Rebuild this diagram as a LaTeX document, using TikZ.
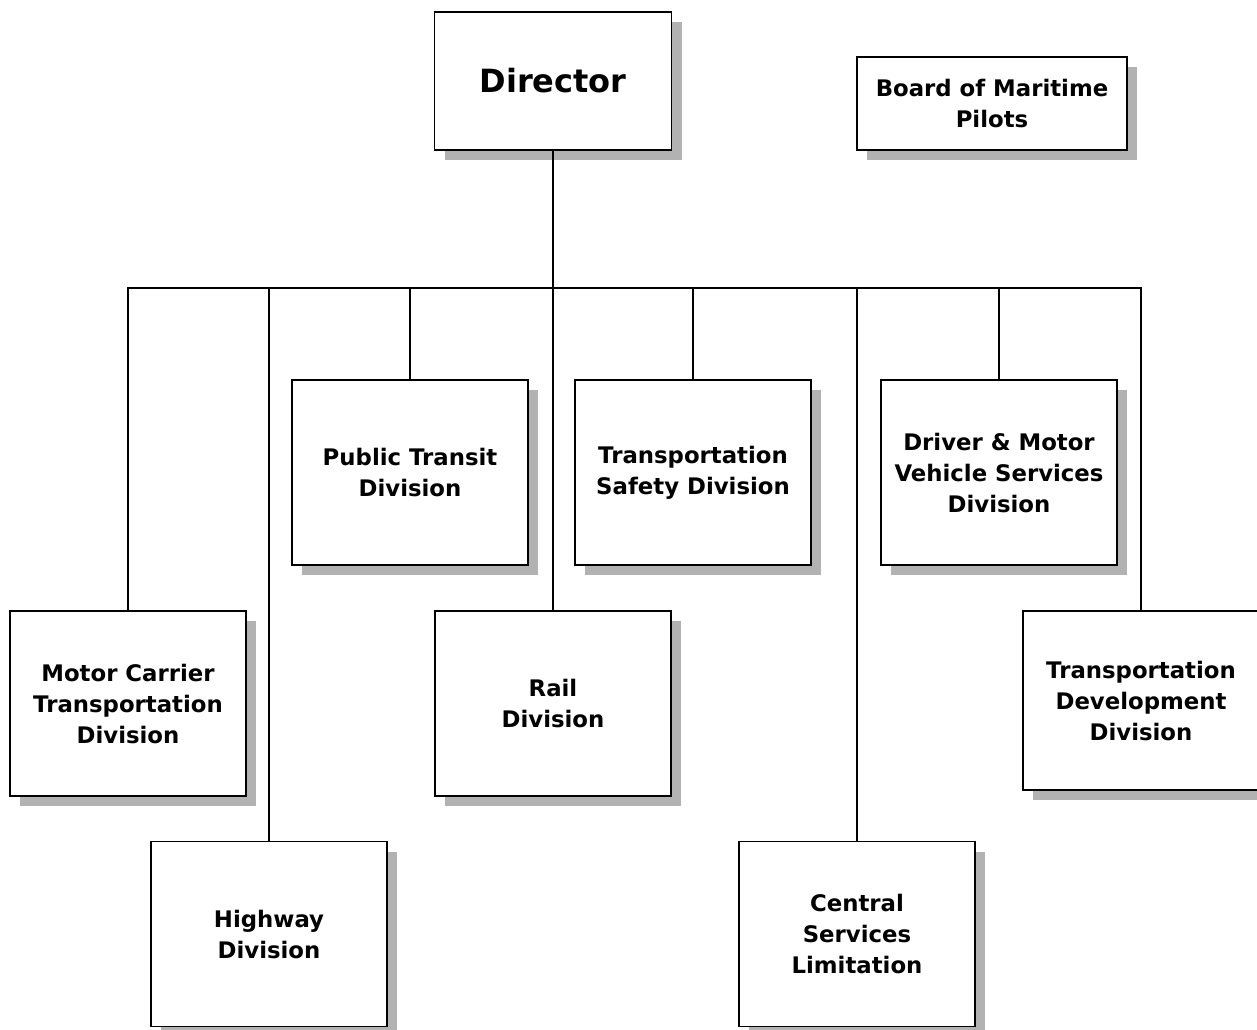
\documentclass[tikz,border=0pt]{standalone}
\usepackage{fontspec}
\setmainfont{DejaVu Sans}
\usetikzlibrary{shadows}
\begin{document}
\begin{tikzpicture}[x=1pt,y=1pt,
  box/.style={draw=black, line width=1.7pt, fill=white, inner sep=0pt,
    minimum width=236pt, minimum height=185pt, align=center,
    font=\fontsize{22.8}{31}\selectfont\bfseries,
    general shadow={fill=black!30, shadow xshift=10pt, shadow yshift=-10pt}},
  link/.style={line width=1.7pt, draw=black}]
\useasboundingbox (0,0) rectangle (1257,-1029);
\fill[white] (0,0) rectangle (1257,-1029);
% nodes
\node[box, minimum width=237pt, minimum height=138pt, font=\fontsize{32}{38}\selectfont\bfseries] (dir) at (553,-81) {Director};
\node[box, minimum width=270pt, minimum height=93pt] (board) at (992,-103.5) {Board of Maritime\\Pilots};
\node[box] (pt) at (410,-472.5) {Public Transit\\Division};
\node[box] (ts) at (693,-472.5) {Transportation\\Safety Division};
\node[box] (dmv) at (999,-472.5) {Driver \& Motor\\Vehicle Services\\Division};
\node[box] (mc) at (128,-703.5) {Motor Carrier\\Transportation\\Division};
\node[box] (rail) at (553,-703.5) {Rail\\Division};
\node[box, minimum height=179pt] (td) at (1141,-700.5) {Transportation\\Development\\Division};
\node[box] (hw) at (269,-934) {Highway\\Division};
\node[box] (cs) at (857,-934) {Central\\Services\\Limitation};
% connectors
\coordinate (busL) at (128,-288);
\draw[link] (mc.north) |- (td.north |- busL) -- (td.north);
\draw[link] (dir.south) -- (rail.north);
\foreach \n in {hw,pt,ts,cs,dmv}{
  \draw[link] (\n.north) -- (\n.north |- busL);
}
\end{tikzpicture}
\end{document}
